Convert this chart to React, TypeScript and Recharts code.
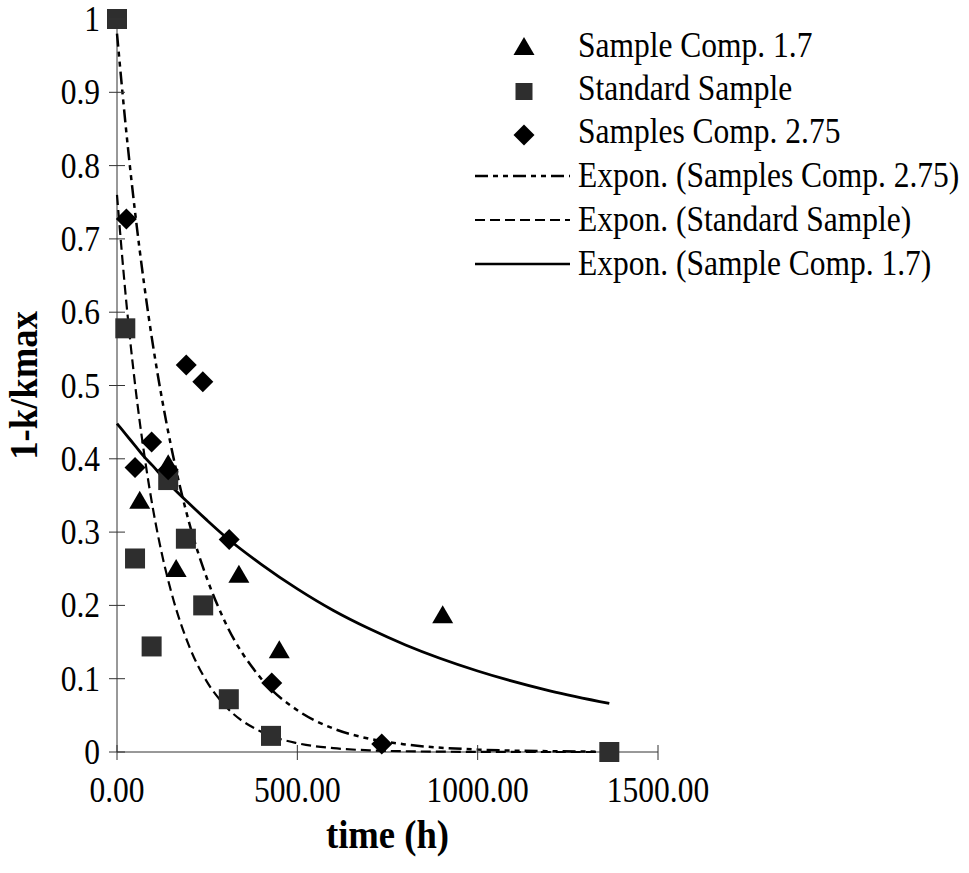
import React from 'react';
import { ScatterChart, Scatter, XAxis, YAxis, Legend } from 'recharts';

// measured points (time in h, 1-k/kmax)
const comp17Time = [63, 142, 164, 338, 450, 903];
const comp17Value = [0.34, 0.39, 0.247, 0.239, 0.136, 0.184];

const standardTime = [0, 23, 50, 96, 142, 191, 239, 310, 427, 1365];
const standardValue = [1.0, 0.578, 0.264, 0.144, 0.371, 0.291, 0.2, 0.072, 0.022, 0.0];

const comp275Time = [26, 50, 96, 142, 192, 238, 311, 429, 734];
const comp275Value = [0.727, 0.388, 0.423, 0.385, 0.528, 0.505, 0.29, 0.094, 0.011];

// exponential trend lines
const trendTime = [0, 25, 50, 75, 100, 125, 150, 200, 250, 300, 400, 500, 600, 700, 800, 1000, 1200, 1365];
const trendComp275 = [0.98, 0.85, 0.737, 0.639, 0.554, 0.481, 0.417, 0.313, 0.236, 0.177, 0.1, 0.057, 0.032, 0.018, 0.0103, 0.0033, 0.0011, 0.0004];
const trendStandard = [0.76, 0.618, 0.502, 0.408, 0.331, 0.269, 0.219, 0.1445, 0.0954, 0.063, 0.0275, 0.012, 0.0052, 0.0023, 0.001, 0.0002, 0.0, 0.0];
const trendComp17 = [0.448, 0.433, 0.418, 0.403, 0.39, 0.376, 0.363, 0.339, 0.316, 0.294, 0.256, 0.2225, 0.193, 0.168, 0.146, 0.1105, 0.0835, 0.0663];

const xTicks = [0, 500, 1000, 1500];
const yTicks = [0, 0.1, 0.2, 0.3, 0.4, 0.5, 0.6, 0.7, 0.8, 0.9, 1];

const legendNames = [
  'Sample Comp. 1.7',
  'Standard Sample',
  'Samples Comp. 2.75',
  'Expon. (Samples Comp. 2.75)',
  'Expon. (Standard Sample)',
  'Expon. (Sample Comp. 1.7)',
];

const zip = (xs: number[], ys: number[]) => xs.map((x, i) => ({ x, y: ys[i] }));

const FONT = '"Liberation Serif", "Times New Roman", serif';
const INK = '#000';
const SQUARE_FILL = '#2e2e2e';
const DASH_DOT = '13 5 5 5 5 5';
const DASHED = '10 5';
const TEXT_SIZE = 35;
const SQUEEZE = 0.9; // the scan's lettering is narrow for its height

const Triangle = ({ cx, cy }: any) => (
  <polygon points={`${cx},${cy - 12} ${cx - 10.5},${cy + 6} ${cx + 10.5},${cy + 6}`} fill={INK} />
);
const Square = ({ cx, cy }: any) => (
  <rect x={cx - 10} y={cy - 10} width={20} height={20} fill={SQUARE_FILL} />
);
const Diamond = ({ cx, cy }: any) => (
  <polygon points={`${cx},${cy - 10.5} ${cx + 10.5},${cy} ${cx},${cy + 10.5} ${cx - 10.5},${cy}`} fill={INK} />
);
const NoDot = () => <g />;

function Txt({ x, y, anchor = 'start', size = TEXT_SIZE, sx = SQUEEZE, bold = false, rotate = 0, children }: any) {
  return (
    <text
      transform={`translate(${x},${y}) rotate(${rotate}) scale(${sx},1)`}
      textAnchor={anchor}
      fontFamily={FONT}
      fontSize={size}
      fontWeight={bold ? 'bold' : 'normal'}
      fill={INK}
    >
      {children}
    </text>
  );
}

function XTick(props: any) {
  const { x, y, payload } = props;
  return (
    <g>
      <line x1={x} x2={x} y1={y - 7} y2={y + 8} stroke="#333" strokeWidth={1} />
      <Txt x={x} y={y + 50} anchor="middle">{Number(payload.value).toFixed(2)}</Txt>
    </g>
  );
}

function YTick(props: any) {
  const { x, y, payload } = props;
  return (
    <g>
      <line x1={x - 8} x2={x + 8} y1={y} y2={y} stroke="#333" strokeWidth={1} />
      <Txt x={x - 17} y={y + 12} anchor="end">{String(payload.value)}</Txt>
    </g>
  );
}

function XTitle(props: any) {
  const { viewBox } = props;
  return (
    <Txt x={viewBox.x + viewBox.width / 2} y={viewBox.y + 96} anchor="middle" size={39} sx={0.94} bold>
      time (h)
    </Txt>
  );
}

function YTitle(props: any) {
  const { viewBox } = props;
  return (
    <Txt x={37} y={viewBox.y + viewBox.height / 2} anchor="middle" size={39} sx={0.94} bold rotate={-90}>
      1-k/kmax
    </Txt>
  );
}

function ChartLegend() {
  const rowY = [46, 89, 132, 176, 220, 264];
  const textX = 138;
  const iconX = 84;
  return (
    <svg width={529} height={290} style={{ display: 'block' }}>
      <Triangle cx={iconX} cy={rowY[0] + 3} />
      <rect x={iconX - 8.5} y={rowY[1] - 6} width={17} height={17} fill={SQUARE_FILL} />
      <Diamond cx={iconX} cy={rowY[2] + 3} />
      <line x1={35} x2={130} y1={rowY[3]} y2={rowY[3]} stroke={INK} strokeWidth={2.5} strokeDasharray={DASH_DOT} />
      <line x1={35} x2={130} y1={rowY[4]} y2={rowY[4]} stroke={INK} strokeWidth={2} strokeDasharray={DASHED} />
      <line x1={35} x2={130} y1={rowY[5]} y2={rowY[5]} stroke={INK} strokeWidth={2.5} />
      {legendNames.map((name, i) => (
        <Txt key={name} x={textX} y={rowY[i] + 11}>{name}</Txt>
      ))}
    </svg>
  );
}

export default function App() {
  return (
    <div style={{ position: 'absolute', left: 0, top: 0, width: 969, height: 873, background: '#fff' }}>
      <ScatterChart width={969} height={873} margin={{ top: 19, right: 311, bottom: 0, left: 0 }}>
        <XAxis
          type="number"
          dataKey="x"
          domain={[0, 1500]}
          ticks={xTicks}
          interval={0}
          height={121}
          tickSize={0}
          tickMargin={0}
          tickLine={false}
          axisLine={{ stroke: '#333', strokeWidth: 1 }}
          tick={<XTick />}
          label={{ content: <XTitle /> }}
        />
        <YAxis
          type="number"
          dataKey="y"
          domain={[0, 1]}
          ticks={yTicks}
          interval={0}
          width={117}
          tickSize={0}
          tickMargin={0}
          tickLine={false}
          axisLine={{ stroke: '#333', strokeWidth: 1 }}
          tick={<YTick />}
          label={{ content: <YTitle /> }}
        />
        <Legend
          layout="vertical"
          align="center"
          verticalAlign="middle"
          wrapperStyle={{ left: 440, top: 0, width: 529, height: 290 }}
          content={() => <ChartLegend />}
        />
        <Scatter
          name="Expon. (Samples Comp. 2.75)"
          data={zip(trendTime, trendComp275)}
          line={{ stroke: INK, strokeWidth: 2.5, strokeDasharray: DASH_DOT }}
          lineJointType="monotoneX"
          shape={<NoDot />}
          isAnimationActive={false}
        />
        <Scatter
          name="Expon. (Standard Sample)"
          data={zip(trendTime, trendStandard)}
          line={{ stroke: INK, strokeWidth: 2.2, strokeDasharray: DASHED }}
          lineJointType="monotoneX"
          shape={<NoDot />}
          isAnimationActive={false}
        />
        <Scatter
          name="Expon. (Sample Comp. 1.7)"
          data={zip(trendTime, trendComp17)}
          line={{ stroke: INK, strokeWidth: 2.8 }}
          lineJointType="monotoneX"
          shape={<NoDot />}
          isAnimationActive={false}
        />
        <Scatter name="Sample Comp. 1.7" data={zip(comp17Time, comp17Value)} shape={<Triangle />} isAnimationActive={false} />
        <Scatter name="Standard Sample" data={zip(standardTime, standardValue)} shape={<Square />} isAnimationActive={false} />
        <Scatter name="Samples Comp. 2.75" data={zip(comp275Time, comp275Value)} shape={<Diamond />} isAnimationActive={false} />
      </ScatterChart>
    </div>
  );
}
